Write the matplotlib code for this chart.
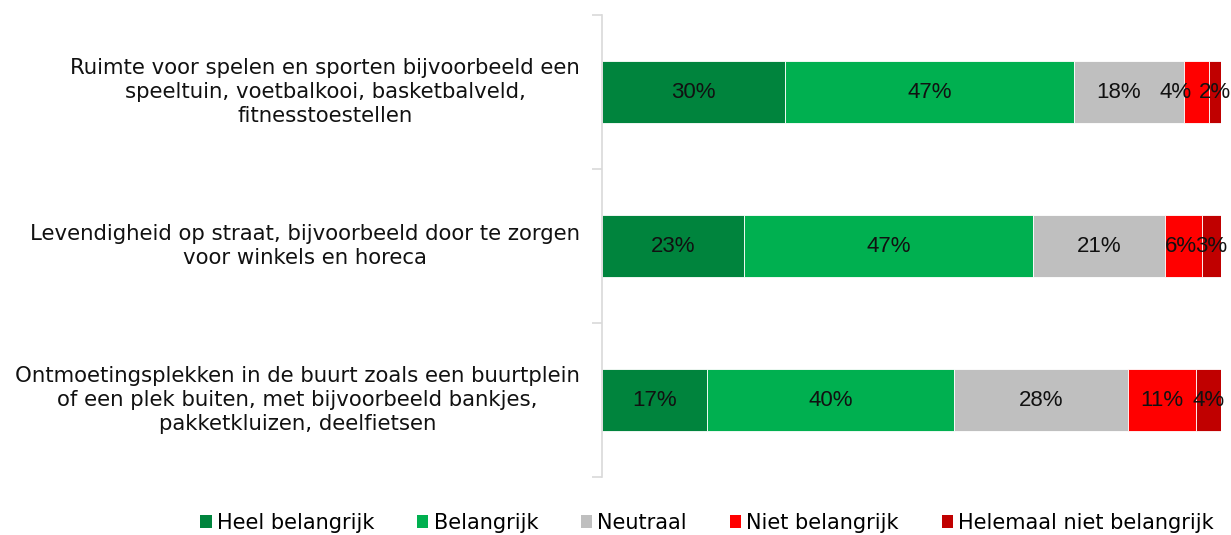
import matplotlib.pyplot as plt
from matplotlib.patches import Patch

categories = [
    'Ruimte voor spelen en sporten bijvoorbeeld een\nspeeltuin, voetbalkooi, basketbalveld,\nfitnesstoestellen',
    'Levendigheid op straat, bijvoorbeeld door te zorgen\nvoor winkels en horeca',
    'Ontmoetingsplekken in de buurt zoals een buurtplein\nof een plek buiten, met bijvoorbeeld bankjes,\npakketkluizen, deelfietsen',
]
series_names = ['Heel belangrijk', 'Belangrijk', 'Neutraal', 'Niet belangrijk', 'Helemaal niet belangrijk']
colors = ['#00843D', '#00B050', '#BFBFBF', '#FF0000', '#C00000']

heel = [29.6, 22.9, 17.0]
belangrijk = [46.6, 46.8, 39.9]
neutraal = [17.8, 21.2, 28.1]
niet = [4.0, 6.0, 11.0]
helemaal_niet = [2.0, 3.1, 4.0]
values = [heel, belangrijk, neutraal, niet, helemaal_niet]

# labels that were moved by hand in the original (row, series) -> pixel shift
nudge = {(0, 2): -10, (0, 3): -21, (1, 3): -2}

fig = plt.figure(figsize=(12.31, 5.35), dpi=100)
ax = fig.add_axes([602 / 1231, 1 - 477 / 535, 619 / 1231, 462 / 535])

y = [0, 1, 2]
left = [0, 0, 0]
for si, (name, vals, c) in enumerate(zip(series_names, values, colors)):
    ax.barh(y, vals, left=left, height=0.4, color=c, edgecolor='white', linewidth=0.6, label=name)
    for yi, l, v in zip(y, left, vals):
        ax.annotate(f'{v:.0f}%', xy=(l + v / 2, yi), xytext=(nudge.get((yi, si), 0), 0),
                    textcoords='offset pixels', ha='center', va='center', fontsize=16,
                    family='Liberation Sans', color='#111111')
    left = [a + b for a, b in zip(left, vals)]

ax.set_xlim(0, 100)
ax.set_ylim(2.5, -0.5)
ax.set_xticks([])
ax.set_yticks([])
ax.set_yticks([-0.5, 0.5, 1.5, 2.5], minor=True)
ax.tick_params(axis='y', which='minor', length=7, color='#D9D9D9', width=1.2)
for s in ['top', 'right', 'bottom']:
    ax.spines[s].set_visible(False)
ax.spines['left'].set_color('#D9D9D9')
ax.spines['left'].set_linewidth(1.2)

for yi, cat in zip(y, categories):
    ax.annotate(cat, xy=(0, yi), xycoords=('axes fraction', 'data'),
                xytext=(-22, 0), textcoords='offset pixels',
                ha='right', va='center', multialignment='center',
                fontsize=15.3, linespacing=1.28, color='#111111')

handles = [Patch(facecolor=c, label=n) for n, c in zip(series_names, colors)]
fig.legend(handles=handles, loc='center', bbox_to_anchor=(707 / 1231, 1 - 523 / 535),
           ncol=5, frameon=False, fontsize=15, handlelength=0.55, handleheight=0.55,
           handletextpad=0.25, columnspacing=2.05)

fig.savefig('out.png', dpi=100)
